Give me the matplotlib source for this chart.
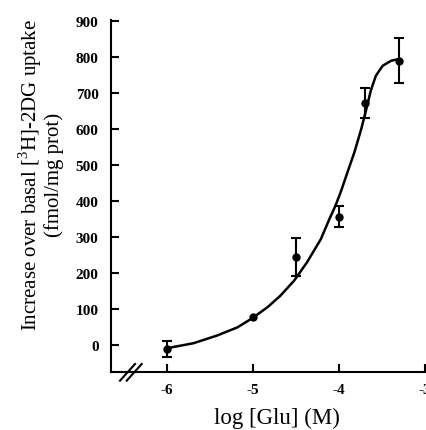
import numpy as np
import matplotlib
matplotlib.use("Agg")
import matplotlib.pyplot as plt

plt.rcParams["font.family"] = ["Liberation Serif", "DejaVu Serif"]
plt.rcParams["mathtext.fontset"] = "custom"
plt.rcParams["mathtext.rm"] = "Liberation Serif"

# measured points (log M, fmol/mg prot, error)
log_glu = [-6.0, -5.0, -4.5, -4.0, -3.7, -3.3]
uptake = [-11, 77, 245, 357, 672, 790]
sem = [23, np.nan, 53, 30, 42, 62]

# fitted curve
curve_x = [-6.0, -5.69, -5.42, -5.18, -5.01, -4.83, -4.68, -4.52, -4.37, -4.21, -4.11,
           -4.04, -3.98, -3.90, -3.82, -3.74, -3.68, -3.63, -3.57, -3.49, -3.39, -3.31]
curve_y = [-9, 5, 26, 49, 74, 105, 137, 179, 230, 294, 350,
           387, 424, 480, 535, 600, 656, 706, 748, 776, 790, 794]

xticks = [-6, -5, -4, -3]
yticks = [0, 100, 200, 300, 400, 500, 600, 700, 800, 900]

fig = plt.figure(figsize=(4.27, 4.31), dpi=100)
ax = fig.add_axes([0.26, 0.1346, 0.735, 0.8167])

ax.plot(curve_x, curve_y, color="black", lw=1.8, solid_capstyle="round",
        solid_joinstyle="round")
ax.errorbar(log_glu, uptake, yerr=sem, fmt="o", color="black", ms=5,
            elinewidth=1.5, capsize=3.8, capthick=1.5)

ax.set_xlim(-6.65, -3.0)
ax.set_ylim(-75, 903)
ax.set_xticks(xticks)
ax.set_xticklabels([str(t) for t in xticks])
ax.set_yticks(yticks)
ax.set_yticklabels([str(t) for t in yticks])

for side in ["top", "right"]:
    ax.spines[side].set_visible(False)
for side in ["left", "bottom"]:
    ax.spines[side].set_linewidth(1.5)
ax.tick_params(direction="in", length=6, width=1.5, labelsize=11)
ax.tick_params(axis="y", pad=9)
ax.tick_params(axis="x", pad=8)
for lab in ax.get_xticklabels() + ax.get_yticklabels():
    lab.set_fontweight("bold")

# axis break marks
for dx in [0.0, 0.0213]:
    ax.plot([0.0287 + dx, 0.0764 + dx], [-0.0247, 0.0227], transform=ax.transAxes,
            color="black", lw=1.5, clip_on=False)

fig.text(0.649, 0.03, "log [Glu] (M)", ha="center", va="center", fontsize=16.5)
fig.text(0.094, 0.594, "Increase over basal [$^{3}$H]-2DG uptake\n(fmol/mg prot)",
         rotation=90, ha="center", va="center", multialignment="center",
         fontsize=15, linespacing=0.95)

fig.savefig("out.png", dpi=100)
